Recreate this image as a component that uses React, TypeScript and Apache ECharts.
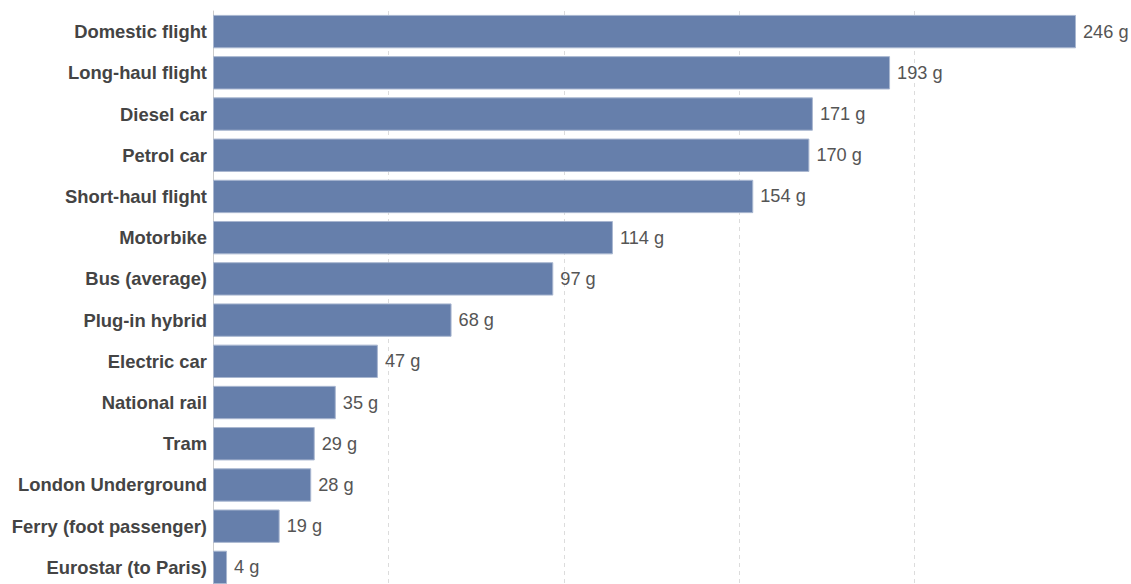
import React, { useEffect, useRef } from "react";
import * as echarts from "echarts";

const categories = [
  "Domestic flight",
  "Long-haul flight",
  "Diesel car",
  "Petrol car",
  "Short-haul flight",
  "Motorbike",
  "Bus (average)",
  "Plug-in hybrid",
  "Electric car",
  "National rail",
  "Tram",
  "London Underground",
  "Ferry (foot passenger)",
  "Eurostar (to Paris)",
];

const emissions = [246, 193, 171, 170, 154, 114, 97, 68, 47, 35, 29, 28, 19, 4];

const unit = "g";

const FONT = "'Liberation Sans', Arial, sans-serif";

export default function App() {
  const ref = useRef<HTMLDivElement>(null);

  useEffect(() => {
    document.body.style.margin = "0";
    if (!ref.current) return;
    const chart = echarts.init(ref.current, undefined, { renderer: "svg" });
    chart.setOption({
      animation: false,
      backgroundColor: "#ffffff",
      grid: {
        left: 213,
        right: 55,
        top: 11,
        bottom: -4,
        containLabel: false,
        outerBoundsMode: "none",
      },
      xAxis: {
        type: "value",
        min: 0,
        max: 246,
        interval: 50,
        axisLabel: { show: false },
        axisLine: { show: false },
        axisTick: { show: false },
        splitLine: {
          show: true,
          showMinLine: false,
          showMaxLine: false,
          lineStyle: { color: "#dcdcdc", type: [4, 4], width: 1 },
        },
      },
      yAxis: {
        type: "category",
        inverse: true,
        data: categories,
        axisLine: { show: true, lineStyle: { color: "#cccccc", width: 1 } },
        axisTick: { show: false },
        axisLabel: {
          margin: 6,
          color: "#444444",
          fontSize: 18.4,
          fontWeight: "bold",
          fontFamily: FONT,
        },
      },
      series: [
        {
          type: "bar",
          data: emissions,
          barCategoryGap: "19%",
          itemStyle: {
            color: "#667fab",
            borderColor: "#a9b7d0",
            borderWidth: 1,
          },
          label: {
            show: true,
            position: "right",
            distance: 7,
            color: "#555555",
            fontSize: 18.2,
            fontFamily: FONT,
            formatter: (p: any) => `${p.value} ${unit}`,
          },
        },
      ],
    });
    return () => chart.dispose();
  }, []);

  return <div ref={ref} style={{ width: 1131, height: 584 }} />;
}
